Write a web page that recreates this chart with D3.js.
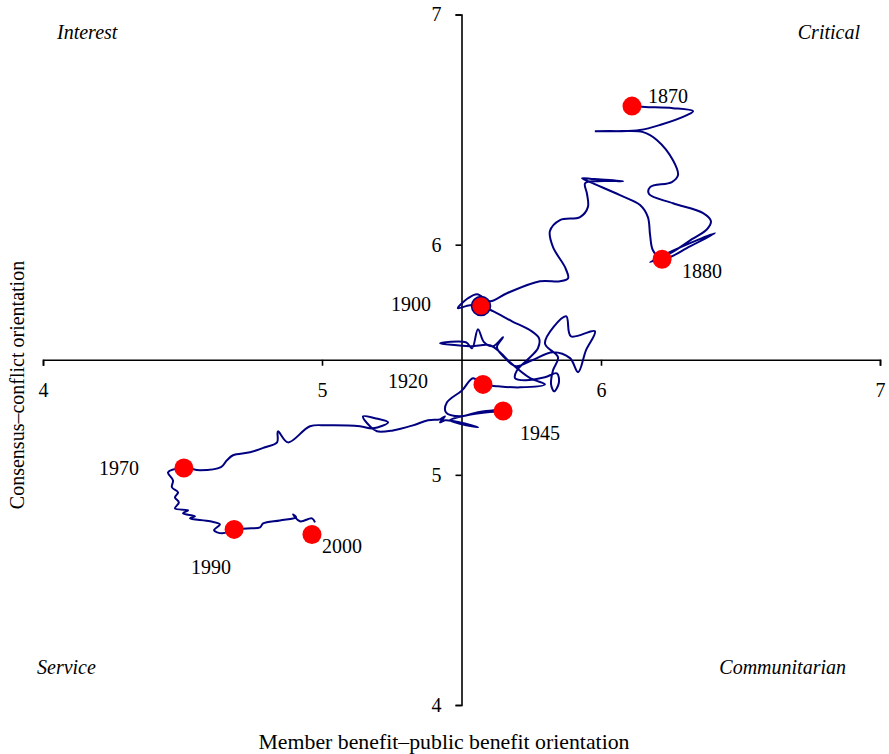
<!DOCTYPE html>
<html><head><meta charset="utf-8">
<script src="https://cdn.jsdelivr.net/npm/d3@7"></script>
<style>body{margin:0;background:#fff}svg{display:block}</style>
</head><body>
<script>
// ---- data ----
const pathX = [6.111,6.158,6.258,6.330,6.308,6.211,6.140,6.057,5.978,6.068,6.151,6.201,6.258,6.276,6.254,6.176,6.172,6.258,6.366,6.394,6.380,6.326,6.254,6.176,6.254,6.409,6.319,6.219,
 6.186,6.176,6.168,6.140,6.068,5.961,5.932,5.975,6.079,5.986,5.943,5.950,5.953,5.925,5.853,5.817,5.828,5.871,5.882,5.853,5.781,5.663,5.602,5.556,5.523,5.487,5.530,5.570,
 5.613,5.681,5.746,5.778,5.774,5.738,5.699,5.692,5.728,5.799,5.842,5.849,5.832,5.821,5.828,5.846,5.799,5.875,5.892,5.978,5.946,5.918,5.889,5.828,5.753,5.695,5.656,5.627,5.649,5.613,5.581,5.559,5.538,5.516,5.423,5.530,5.602,5.638,5.674,5.746,5.799,5.710,5.631,5.577,
 5.541,5.502,5.448,5.444,5.495,5.559,5.609,5.649,
 5.595,5.520,5.459,5.502,5.559,5.495,5.441,5.423,5.441,5.423,5.380,5.326,5.254,5.197,5.172,5.147,5.190,5.237,5.183,5.136,5.018,4.957,4.878,4.842,4.839,4.796,4.742,4.681,4.659,4.638,4.563,4.505,
 4.448,4.466,4.462,4.484,4.473,4.487,4.473,4.520,4.502,4.545,4.527,4.599,4.634,4.613,4.642,4.685,
 4.731,4.778,4.789,4.849,4.907,4.896,4.921,4.964,4.975];
const pathY = [6.602,6.598,6.593,6.580,6.563,6.520,6.498,6.493,6.493,6.493,6.489,6.454,6.367,6.302,6.272,6.250,6.220,6.180,6.137,6.102,6.067,6.024,5.967,5.924,5.972,6.050,5.993,5.937,
 5.976,6.041,6.120,6.172,6.215,6.272,6.289,6.285,6.276,6.276,6.267,6.220,6.163,6.120,6.107,6.059,5.989,5.902,5.854,5.841,5.841,5.789,5.754,5.785,5.767,5.724,5.737,5.733,
 5.711,5.667,5.628,5.593,5.550,5.502,5.454,5.420,5.411,5.424,5.441,5.400,5.363,5.393,5.454,5.511,5.572,5.689,5.602,5.624,5.541,5.446,5.507,5.533,5.498,5.472,5.507,5.554,5.598,5.559,5.576,5.633,5.550,5.576,5.572,5.559,5.563,5.533,5.489,5.420,5.393,5.380,5.385,5.393,
 5.420,5.367,5.315,5.272,5.254,5.272,5.280,5.277,
 5.272,5.259,5.237,5.220,5.207,5.228,5.237,5.228,5.254,5.241,5.237,5.215,5.193,5.189,5.211,5.254,5.246,5.228,5.202,5.211,5.215,5.211,5.141,5.189,5.141,5.120,5.098,5.085,5.063,5.033,5.020,5.030,
 5.011,4.976,4.946,4.924,4.902,4.880,4.854,4.846,4.833,4.820,4.811,4.798,4.785,4.759,4.746,4.763,
 4.767,4.772,4.789,4.802,4.815,4.828,4.798,4.811,4.793];
const markerYears = ["1870","1880","1900","1920","1945","1970","1990","2000"];
const markerX = [6.111,6.219,5.570,5.577,5.649,4.505,4.685,4.964];
const markerY = [6.602,5.937,5.733,5.393,5.277,5.030,4.763,4.741];
const xTicks = [4,5,6,7];
const yTicks = [4,5,6,7];
const quadrantLabels = ["Interest","Critical","Service","Communitarian"];
const xTitle = "Member benefit\u2013public benefit orientation";
const yTitle = "Consensus\u2013conflict orientation";

// ---- layout / style ----
const W = 889, H = 754;
const font = "'Liberation Serif','Times New Roman',serif";
const labelOffsets = [[16,-10,"start"],[20,12,"start"],[-50,-2,"end"],[-55,-3,"end"],[17,22,"start"],[-45,0,"end"],[-3,38,"end"],[10,12,"start"]];
const quadPos = [[57,39,"start"],[860,39,"end"],[37,674,"start"],[846,674,"end"]];

const x = d3.scaleLinear().domain([4,7]).range([43,880]);
const y = d3.scaleLinear().domain([4,7]).range([705,14.5]);

const svg = d3.select("body").append("svg").attr("width",W).attr("height",H)
  .style("font-family",font);

// axes crossing at 5.5 / 5.5
const xAxis = svg.append("g").attr("transform",`translate(0,${y(5.5)})`)
  .call(d3.axisBottom(x).tickValues(xTicks).tickFormat(d3.format("d")).tickSize(6).tickPadding(17));
const yAxis = svg.append("g").attr("transform",`translate(${x(5.5)},0)`)
  .call(d3.axisLeft(y).tickValues(yTicks).tickFormat(d3.format("d")).tickSize(6).tickPadding(14));
[xAxis,yAxis].forEach(g=>{
  g.selectAll("path,line").attr("stroke","#000").attr("stroke-width",1.6);
  g.selectAll("text").attr("font-family",font).attr("font-size",20).attr("fill","#000");
});

// path
const pts = pathX.map((v,i)=>[v,pathY[i]]);
svg.append("path").datum(pts)
  .attr("d", d3.line().x(d=>x(d[0])).y(d=>y(d[1])).curve(d3.curveCatmullRom.alpha(0.5)))
  .attr("fill","none").attr("stroke","#000080").attr("stroke-width",2);

// markers
svg.selectAll("circle.m").data(markerYears).join("circle")
  .attr("class","m")
  .attr("cx",(d,i)=>x(markerX[i])).attr("cy",(d,i)=>y(markerY[i])).attr("r",9.5)
  .attr("fill","#ff0000")
  .attr("stroke",d=>d==="1900"?"#000080":"none").attr("stroke-width",1.5);

svg.selectAll("text.yr").data(markerYears).join("text")
  .attr("class","yr")
  .attr("x",(d,i)=>x(markerX[i])+labelOffsets[i][0])
  .attr("y",(d,i)=>y(markerY[i])+labelOffsets[i][1])
  .attr("dy","0.35em")
  .attr("text-anchor",(d,i)=>labelOffsets[i][2])
  .attr("font-size",20).text(d=>d);

// quadrant labels
svg.selectAll("text.q").data(quadrantLabels).join("text")
  .attr("class","q")
  .attr("x",(d,i)=>quadPos[i][0]).attr("y",(d,i)=>quadPos[i][1])
  .attr("text-anchor",(d,i)=>quadPos[i][2])
  .attr("font-style","italic").attr("font-size",20).text(d=>d);

// titles
svg.append("text").attr("x",444).attr("y",749).attr("text-anchor","middle")
  .attr("font-size",21.8).text(xTitle);
svg.append("text").attr("transform","translate(24,385) rotate(-90)").attr("text-anchor","middle")
  .attr("font-size",20).text(yTitle);
</script>
</body></html>
